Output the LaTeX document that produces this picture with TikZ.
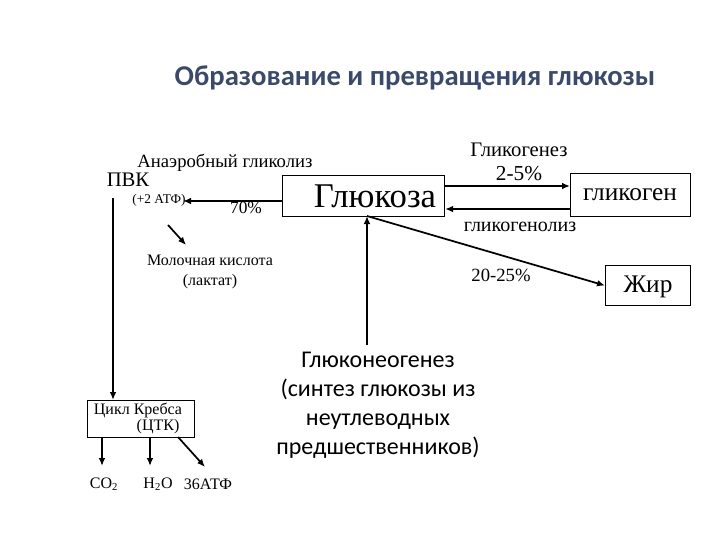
\documentclass[tikz,border=0pt]{standalone}
\usepackage{fontspec}
\setmainfont{Liberation Serif}
\newfontfamily\titlefont{Carlito}
\usetikzlibrary{arrows.meta}
\definecolor{titleblue}{HTML}{3B4A6B}
\begin{document}
\begin{tikzpicture}[x=0.75pt,y=-0.75pt,
  box/.style={draw,line width=0.8pt,inner sep=0pt,anchor=north west},
  conn/.style={line width=1.3pt,-{Latex[length=6pt,width=5pt]}},
  lbl/.style={inner sep=0pt,font=\fontsize{15}{18}\selectfont},
  sm/.style={inner sep=0pt,font=\fontsize{12}{14}\selectfont}]
\useasboundingbox (0,0) rectangle (720,540);
\node[inner sep=0pt,text=titleblue,font=\titlefont\bfseries\fontsize{21.5}{26}\selectfont] (title) at (415,78) {Образование и превращения глюкозы};
\node[box,minimum width=162*0.75pt,minimum height=41*0.75pt] (glu) at (282,175) {};
\node[inner sep=0pt,font=\fontsize{26}{30}\selectfont] (glut) at (375,196) {Глюкоза};
\node[box,minimum width=120*0.75pt,minimum height=43*0.75pt] (gly) at (570,173) {};
\node[lbl,font=\fontsize{19}{22}\selectfont] (glyt) at (630,195) {гликоген};
\node[box,minimum width=85*0.75pt,minimum height=40*0.75pt] (fat) at (605,265) {};
\node[lbl,font=\fontsize{19}{22}\selectfont] (fatt) at (648,287) {Жир};
\node[box,minimum width=107*0.75pt,minimum height=37*0.75pt] (kr) at (87,400) {};
\node[sm] (kr1) at (138,410) {Цикл Кребса};
\node[sm] (kr2) at (158,427) {(ЦТК)};
\node[lbl,font=\fontsize{15.5}{18}\selectfont] (pvk) at (128,180) {ПВК};
\node[lbl,font=\fontsize{14}{17}\selectfont] (anaer) at (225,163) {Анаэробный гликолиз};
\node[sm,font=\fontsize{10}{12}\selectfont] (atp2) at (159,200) {(+2 АТФ)};
\node[lbl,font=\fontsize{13}{15}\selectfont] (p70) at (246,208) {70\%};
\node[sm] (lac1) at (210,260) {Молочная кислота};
\node[sm] (lac2) at (210,282) {(лактат)};
\node[lbl,font=\fontsize{15.5}{18}\selectfont] (gg) at (519,150) {Гликогенез};
\node[lbl,font=\fontsize{16}{18}\selectfont] (p25) at (519,174) {2-5\%};
\node[lbl] (ggl) at (520,227) {гликогенолиз};
\node[lbl,font=\fontsize{14}{17}\selectfont] (p2025) at (501,275) {20-25\%};
\node[inner sep=0pt,align=center,font=\titlefont\fontsize{18}{21.8}\selectfont] (gng) at (378,405) {Глюконеогенез\\(синтез глюкозы из\\неутлеводных\\предшественников)};
\node[sm] (co2) at (104,484) {CO\textsubscript{2}};
\node[sm] (h2o) at (158,484) {H\textsubscript{2}O};
\node[sm] (atp36) at (208,484) {36АТФ};
\coordinate (pvka) at (183,201);
\coordinate (pvkd) at (113,198);
\coordinate (laca) at (168,225);
\coordinate (lacb) at (186,245);
\draw[conn] (glu.west |- pvka) -- (pvka);
\draw[conn] (laca) -- (lacb);
\draw[conn] (pvkd) -- (pvkd |- kr.north);
\draw[conn] (glu.east |- 0,186) -- (gly.west |- 0,186);
\draw[conn] (gly.west |- 0,209) -- (glu.east |- 0,209);
\coordinate (gbot) at (367,216);
\coordinate (gngtop) at (367,345);
\draw[conn] (gbot) -- (fat.west);
\draw[conn] (gngtop) -- (gbot);
\draw[conn] (102,437) -- (102,466);
\draw[conn] (150,437) -- (150,466);
\draw[conn] (178,437) -- (205,467);
\end{tikzpicture}
\end{document}
